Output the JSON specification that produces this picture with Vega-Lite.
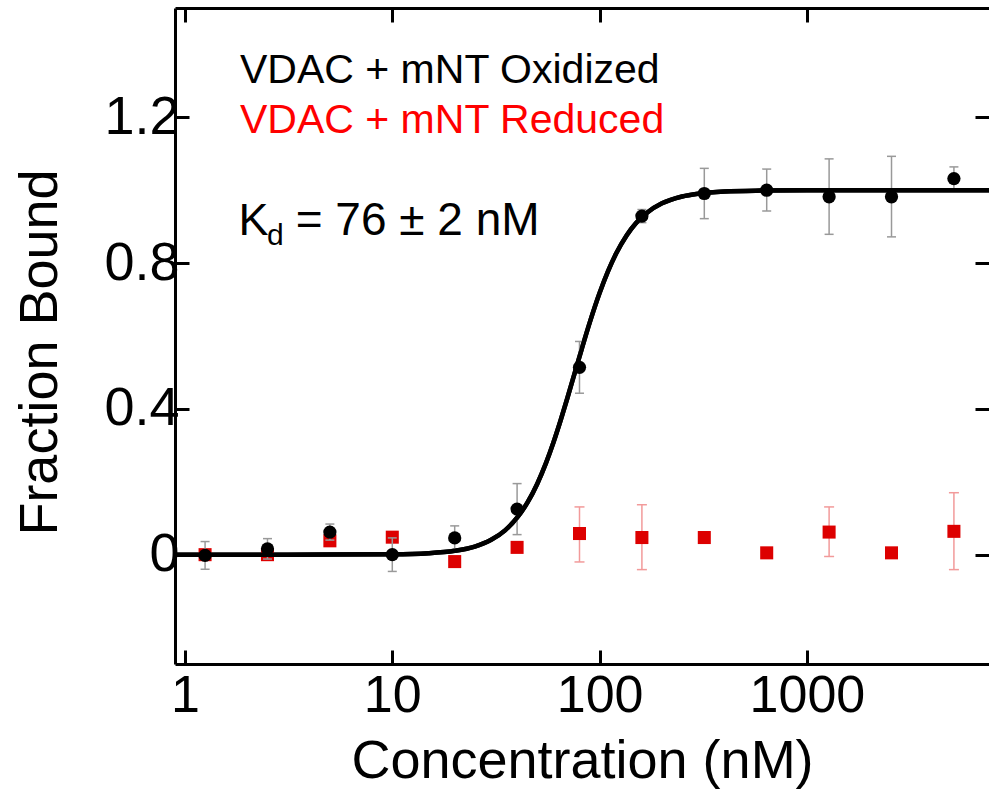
{
  "$schema": "https://vega.github.io/schema/vega-lite/v6.json",
  "autosize": {"type": "none"},
  "padding": {"left": 175, "top": 8, "right": 0, "bottom": 133},
  "width": 814,
  "height": 656,
  "background": "white",
  "config": {
    "view": {"stroke": null},
    "font": "Liberation Sans",
    "axis": {"grid": false}
  },
  "datasets": {
    "fit": [
      {"conc": 0.895, "frac": 0.0}, {"conc": 2, "frac": 0.0}, {"conc": 5, "frac": 0.0002},
      {"conc": 10, "frac": 0.001}, {"conc": 15, "frac": 0.004}, {"conc": 20, "frac": 0.0106},
      {"conc": 25, "frac": 0.0223}, {"conc": 30, "frac": 0.0407}, {"conc": 35, "frac": 0.0668},
      {"conc": 40, "frac": 0.1014}, {"conc": 45, "frac": 0.1441}, {"conc": 50, "frac": 0.1941},
      {"conc": 55, "frac": 0.2498}, {"conc": 60, "frac": 0.3092}, {"conc": 65, "frac": 0.3702},
      {"conc": 70, "frac": 0.4305}, {"conc": 76, "frac": 0.5}, {"conc": 82, "frac": 0.5642},
      {"conc": 90, "frac": 0.64}, {"conc": 100, "frac": 0.7177}, {"conc": 110, "frac": 0.7785},
      {"conc": 120, "frac": 0.8254}, {"conc": 135, "frac": 0.8758}, {"conc": 150, "frac": 0.9098},
      {"conc": 170, "frac": 0.9392}, {"conc": 200, "frac": 0.9641}, {"conc": 250, "frac": 0.9829},
      {"conc": 300, "frac": 0.9907}, {"conc": 400, "frac": 0.9965}, {"conc": 600, "frac": 0.999},
      {"conc": 1000, "frac": 1.0}, {"conc": 7560, "frac": 1.0}
    ],
    "oxidized": [
      {"conc": 1.25, "frac": -0.002, "lo": -0.04, "hi": 0.036},
      {"conc": 2.5, "frac": 0.016, "lo": -0.012, "hi": 0.044},
      {"conc": 5, "frac": 0.062, "lo": 0.04, "hi": 0.084},
      {"conc": 10, "frac": 0.0, "lo": -0.046, "hi": 0.046},
      {"conc": 20, "frac": 0.046, "lo": 0.013, "hi": 0.079},
      {"conc": 40, "frac": 0.125, "lo": 0.055, "hi": 0.195},
      {"conc": 80, "frac": 0.514, "lo": 0.443, "hi": 0.585},
      {"conc": 160, "frac": 0.929, "lo": 0.911, "hi": 0.947},
      {"conc": 320, "frac": 0.991, "lo": 0.922, "hi": 1.06},
      {"conc": 640, "frac": 1.0, "lo": 0.943, "hi": 1.058},
      {"conc": 1280, "frac": 0.982, "lo": 0.879, "hi": 1.086},
      {"conc": 2560, "frac": 0.982, "lo": 0.872, "hi": 1.093},
      {"conc": 5120, "frac": 1.032, "lo": 1.0, "hi": 1.064}
    ],
    "reduced": [
      {"conc": 1.25, "frac": 0.0, "lo": -0.012, "hi": 0.012},
      {"conc": 2.5, "frac": 0.0, "lo": -0.014, "hi": 0.014},
      {"conc": 5, "frac": 0.038, "lo": 0.03, "hi": 0.046},
      {"conc": 10, "frac": 0.048, "lo": 0.048, "hi": 0.048},
      {"conc": 20, "frac": -0.019, "lo": -0.019, "hi": -0.019},
      {"conc": 40, "frac": 0.02, "lo": 0.02, "hi": 0.02},
      {"conc": 80, "frac": 0.058, "lo": -0.02, "hi": 0.131},
      {"conc": 160, "frac": 0.047, "lo": -0.041, "hi": 0.137},
      {"conc": 320, "frac": 0.047, "lo": 0.047, "hi": 0.047},
      {"conc": 640, "frac": 0.005, "lo": 0.005, "hi": 0.005},
      {"conc": 1280, "frac": 0.062, "lo": -0.005, "hi": 0.131},
      {"conc": 2560, "frac": 0.005, "lo": 0.005, "hi": 0.005},
      {"conc": 5120, "frac": 0.064, "lo": -0.041, "hi": 0.17}
    ],
    "label_ox": [{"conc": 1.842, "frac": 1.294, "text": "VDAC + mNT Oxidized"}],
    "label_red": [{"conc": 1.842, "frac": 1.157, "text": "VDAC + mNT Reduced"}],
    "label_k": [{"conc": 1.81, "frac": 0.877, "text": "K"}],
    "label_d": [{"conc": 2.49, "frac": 0.85, "text": "d"}],
    "label_kd": [{"conc": 3.42, "frac": 0.877, "text": "= 76 ± 2 nM"}]
  },
  "resolve": {"axis": {"x": "independent", "y": "independent"}},
  "layer": [
    {
      "data": {"name": "fit"},
      "mark": {"type": "line", "color": "black", "strokeWidth": 4.5, "interpolate": "monotone"},
      "encoding": {
        "x": {
          "field": "conc", "type": "quantitative",
          "scale": {"type": "log", "domain": [0.895, 7560], "nice": false},
          "axis": {
            "orient": "bottom", "values": [1, 10, 100, 1000], "format": "d",
            "title": "Concentration (nM)", "titleFontSize": 54, "titleFontWeight": "normal",
            "titleColor": "black", "titlePadding": 13,
            "labelFontSize": 52, "labelColor": "black", "labelPadding": 20,
            "domainColor": "black", "domainWidth": 3,
            "tickColor": "black", "tickWidth": 3, "tickSize": -14,
            "labelFlush": false, "labelOverlap": false
          }
        },
        "y": {
          "field": "frac", "type": "quantitative",
          "scale": {"domain": [-0.3, 1.5], "nice": false, "zero": false},
          "axis": {
            "orient": "left", "values": [0, 0.4, 0.8, 1.2], "format": ".1~f",
            "title": "Fraction Bound", "titleFontSize": 54, "titleFontWeight": "normal",
            "titleColor": "black", "titlePadding": 36, "titleY": 344,
            "labelFontSize": 54, "labelColor": "black", "labelPadding": 10,
            "domainColor": "black", "domainWidth": 3,
            "tickColor": "black", "tickWidth": 3, "tickSize": -14,
            "labelFlush": false, "labelOverlap": false
          }
        }
      }
    },
    {
      "data": {"name": "reduced"},
      "mark": {"type": "rule", "color": "#f29a9a", "strokeWidth": 1.5},
      "encoding": {
        "x": {"field": "conc", "type": "quantitative", "axis": {"orient": "top", "values": [1, 10, 100, 1000], "labels": false, "title": null, "domainColor": "black", "domainWidth": 3, "tickColor": "black", "tickWidth": 3, "tickSize": -14}},
        "y": {"field": "lo", "type": "quantitative", "axis": {"orient": "right", "values": [0, 0.4, 0.8, 1.2], "labels": false, "title": null, "domain": false, "tickColor": "black", "tickWidth": 3, "tickSize": -14}},
        "y2": {"field": "hi"}
      }
    },
    {
      "data": {"name": "reduced"},
      "mark": {"type": "tick", "orient": "horizontal", "color": "#f29a9a", "size": 10, "thickness": 1.5, "opacity": 1},
      "encoding": {
        "x": {"field": "conc", "type": "quantitative", "axis": null},
        "y": {"field": "lo", "type": "quantitative", "axis": null}
      }
    },
    {
      "data": {"name": "reduced"},
      "mark": {"type": "tick", "orient": "horizontal", "color": "#f29a9a", "size": 10, "thickness": 1.5, "opacity": 1},
      "encoding": {
        "x": {"field": "conc", "type": "quantitative", "axis": null},
        "y": {"field": "hi", "type": "quantitative", "axis": null}
      }
    },
    {
      "data": {"name": "reduced"},
      "mark": {"type": "square", "color": "#dd0000", "size": 170, "opacity": 1, "filled": true},
      "encoding": {
        "x": {"field": "conc", "type": "quantitative", "axis": null},
        "y": {"field": "frac", "type": "quantitative", "axis": null}
      }
    },
    {
      "data": {"name": "oxidized"},
      "mark": {"type": "rule", "color": "#999999", "strokeWidth": 1.5},
      "encoding": {
        "x": {"field": "conc", "type": "quantitative", "axis": null},
        "y": {"field": "lo", "type": "quantitative", "axis": null},
        "y2": {"field": "hi"}
      }
    },
    {
      "data": {"name": "oxidized"},
      "mark": {"type": "tick", "orient": "horizontal", "color": "#999999", "size": 9, "thickness": 1.5, "opacity": 1},
      "encoding": {
        "x": {"field": "conc", "type": "quantitative", "axis": null},
        "y": {"field": "lo", "type": "quantitative", "axis": null}
      }
    },
    {
      "data": {"name": "oxidized"},
      "mark": {"type": "tick", "orient": "horizontal", "color": "#999999", "size": 9, "thickness": 1.5, "opacity": 1},
      "encoding": {
        "x": {"field": "conc", "type": "quantitative", "axis": null},
        "y": {"field": "hi", "type": "quantitative", "axis": null}
      }
    },
    {
      "data": {"name": "fit"},
      "mark": {"type": "line", "color": "black", "strokeWidth": 4.5, "interpolate": "monotone"},
      "encoding": {
        "x": {"field": "conc", "type": "quantitative", "axis": null},
        "y": {"field": "frac", "type": "quantitative", "axis": null}
      }
    },
    {
      "data": {"name": "oxidized"},
      "mark": {"type": "circle", "color": "black", "size": 175, "opacity": 1},
      "encoding": {
        "x": {"field": "conc", "type": "quantitative", "axis": null},
        "y": {"field": "frac", "type": "quantitative", "axis": null}
      }
    },
    {
      "data": {"name": "label_ox"},
      "mark": {"type": "text", "color": "black", "fontSize": 41, "align": "left", "baseline": "alphabetic"},
      "encoding": {
        "x": {"field": "conc", "type": "quantitative", "axis": null},
        "y": {"field": "frac", "type": "quantitative", "axis": null},
        "text": {"field": "text"}
      }
    },
    {
      "data": {"name": "label_red"},
      "mark": {"type": "text", "color": "#ff0000", "fontSize": 41, "align": "left", "baseline": "alphabetic"},
      "encoding": {
        "x": {"field": "conc", "type": "quantitative", "axis": null},
        "y": {"field": "frac", "type": "quantitative", "axis": null},
        "text": {"field": "text"}
      }
    },
    {
      "data": {"name": "label_k"},
      "mark": {"type": "text", "color": "black", "fontSize": 45, "align": "left", "baseline": "alphabetic"},
      "encoding": {
        "x": {"field": "conc", "type": "quantitative", "axis": null},
        "y": {"field": "frac", "type": "quantitative", "axis": null},
        "text": {"field": "text"}
      }
    },
    {
      "data": {"name": "label_d"},
      "mark": {"type": "text", "color": "black", "fontSize": 30, "align": "left", "baseline": "alphabetic"},
      "encoding": {
        "x": {"field": "conc", "type": "quantitative", "axis": null},
        "y": {"field": "frac", "type": "quantitative", "axis": null},
        "text": {"field": "text"}
      }
    },
    {
      "data": {"name": "label_kd"},
      "mark": {"type": "text", "color": "black", "fontSize": 46, "align": "left", "baseline": "alphabetic"},
      "encoding": {
        "x": {"field": "conc", "type": "quantitative", "axis": null},
        "y": {"field": "frac", "type": "quantitative", "axis": null},
        "text": {"field": "text"}
      }
    }
  ]
}
